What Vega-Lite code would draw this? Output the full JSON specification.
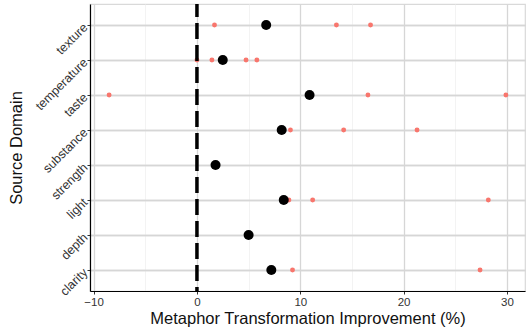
{
  "$schema": "https://vega.github.io/schema/vega-lite/v6.json",
  "autosize": {"type": "none"},
  "width": 435,
  "height": 287,
  "padding": {"left": 90, "top": 4, "right": 2, "bottom": 38},
  "background": "white",
  "config": {
    "font": "Liberation Sans",
    "view": {"stroke": "#d9d9d9", "strokeWidth": 1.2},
    "axis": {"gridColor": "#d6d6d6", "gridWidth": 1.3, "domainColor": "#000000", "domainWidth": 1.2, "tickColor": "#333333", "tickSize": 3, "labelFont": "Liberation Sans", "titleFont": "Liberation Sans", "labelColor": "#333333", "titleColor": "#111111", "labelFontSize": 11.5, "titleFontSize": 16.5, "titleFontWeight": "normal"}
  },
  "datasets": {
    "extremes": [
      {"domain": "texture", "improvement": 1.7},
      {"domain": "texture", "improvement": 13.5},
      {"domain": "texture", "improvement": 16.8},
      {"domain": "temperature", "improvement": 0.0},
      {"domain": "temperature", "improvement": 1.45},
      {"domain": "temperature", "improvement": 4.75},
      {"domain": "temperature", "improvement": 5.8},
      {"domain": "taste", "improvement": -8.5},
      {"domain": "taste", "improvement": 16.55},
      {"domain": "taste", "improvement": 29.9},
      {"domain": "substance", "improvement": 9.05},
      {"domain": "substance", "improvement": 14.2},
      {"domain": "substance", "improvement": 21.3},
      {"domain": "light", "improvement": 8.9},
      {"domain": "light", "improvement": 11.2},
      {"domain": "light", "improvement": 28.2},
      {"domain": "clarity", "improvement": 9.25},
      {"domain": "clarity", "improvement": 27.4}
    ],
    "means": [
      {"domain": "texture", "improvement": 6.7},
      {"domain": "temperature", "improvement": 2.5},
      {"domain": "taste", "improvement": 10.9},
      {"domain": "substance", "improvement": 8.2},
      {"domain": "strength", "improvement": 1.8},
      {"domain": "light", "improvement": 8.4},
      {"domain": "depth", "improvement": 5.0},
      {"domain": "clarity", "improvement": 7.2}
    ],
    "reference": [{"zero": 0}]
  },
  "resolve": {"axis": {"x": "independent", "y": "independent"}},
  "layer": [
    {
      "data": {"name": "extremes"},
      "mark": {"type": "point", "filled": true, "opacity": 1, "size": 24, "color": "#F8766D"},
      "encoding": {
        "x": {"field": "improvement", "type": "quantitative", "scale": {"domain": [-10.35, 31.75], "nice": false, "zero": false},
          "axis": {"orient": "bottom", "values": [-5, 5, 15, 25], "grid": true, "gridColor": "#f0f0f0", "gridWidth": 0.8, "labels": false, "ticks": false, "domain": false, "title": null}},
        "y": {"field": "domain", "type": "nominal", "sort": ["texture", "temperature", "taste", "substance", "strength", "light", "depth", "clarity"], "scale": {"type": "point", "padding": 0.6},
          "axis": {"orient": "left", "grid": true, "labels": false, "ticks": false, "domain": false, "title": null}}
      }
    },
    {
      "data": {"name": "reference"},
      "mark": {"type": "rule", "color": "#000000", "strokeWidth": 3.5, "strokeDash": [16, 6], "strokeDashOffset": 3},
      "encoding": {
        "x": {"field": "zero", "type": "quantitative", "axis": null}
      }
    },
    {
      "data": {"name": "means"},
      "mark": {"type": "point", "filled": true, "opacity": 1, "size": 100, "color": "#000000"},
      "encoding": {
        "x": {"field": "improvement", "type": "quantitative",
          "axis": {"orient": "bottom", "values": [-10, 0, 10, 20, 30], "grid": true, "title": "Metaphor Transformation Improvement (%)", "labelPadding": 2, "titleX": 217.5, "titleY": 27, "titleAlign": "center", "titleBaseline": "middle"}},
        "y": {"field": "domain", "type": "nominal", "sort": ["texture", "temperature", "taste", "substance", "strength", "light", "depth", "clarity"],
          "axis": {"orient": "left", "grid": true, "labelAngle": -45, "labelAlign": "right", "labelBaseline": "middle", "labelPadding": 2, "labelFontSize": 12.5, "title": "Source Domain", "titleX": -74, "titleY": 143.5, "titleAngle": -90, "titleAlign": "center", "titleBaseline": "middle"}}
      }
    }
  ]
}
